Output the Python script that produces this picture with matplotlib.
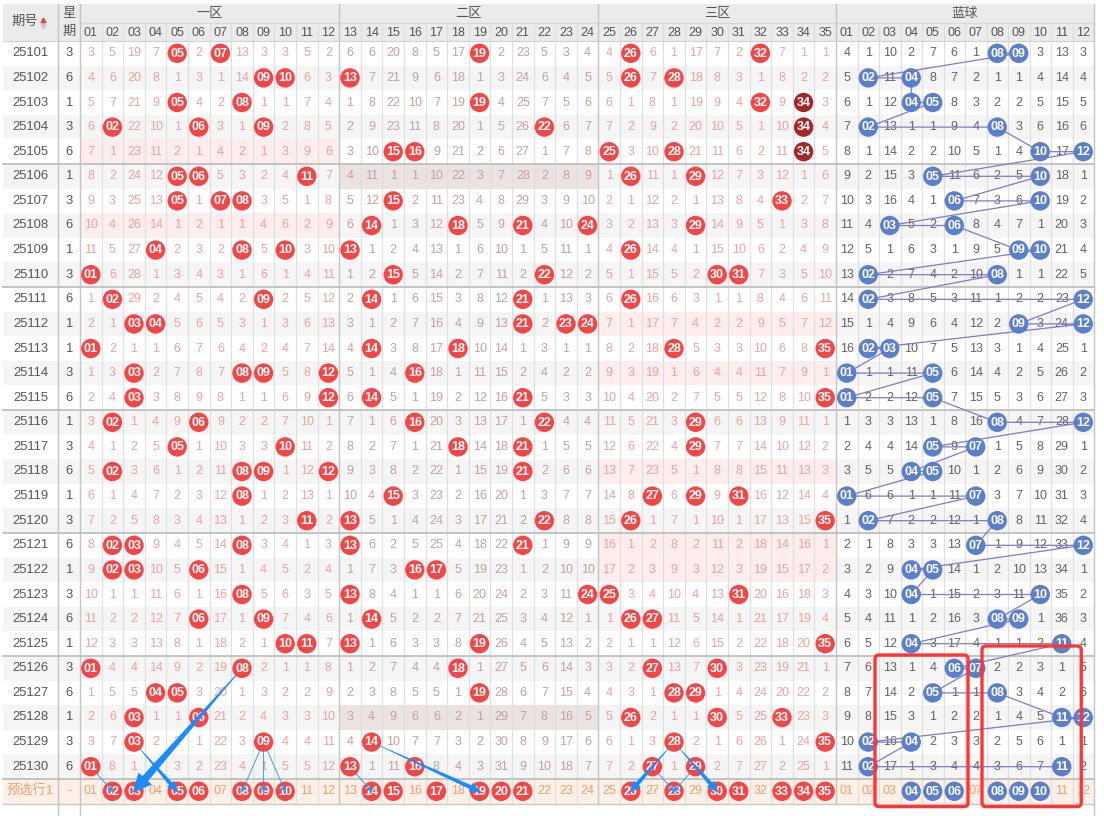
import matplotlib
matplotlib.use("Agg")
import matplotlib.pyplot as plt
from matplotlib.patches import Rectangle, Circle, Polygon, FancyBboxPatch
import numpy as np

plt.rcParams['font.family'] = ['Liberation Sans', 'Noto Sans CJK SC', 'DejaVu Sans']

# ---------------- data (0 = number drawn in that period) ----------------
periods = list(range(25101, 25131))
weekdays = [3, 6, 1, 3, 6, 1, 3, 6, 1, 3, 6, 1, 1, 3, 6, 1, 3, 6, 1, 3,
            6, 1, 3, 6, 1, 3, 6, 1, 3, 6]

zone1_omit = [
    [3, 5, 19, 7, 0, 2, 0, 13, 3, 3, 5, 2],
    [4, 6, 20, 8, 1, 3, 1, 14, 0, 0, 6, 3],
    [5, 7, 21, 9, 0, 4, 2, 0, 1, 1, 7, 4],
    [6, 0, 22, 10, 1, 0, 3, 1, 0, 2, 8, 5],
    [7, 1, 23, 11, 2, 1, 4, 2, 1, 3, 9, 6],
    [8, 2, 24, 12, 0, 0, 5, 3, 2, 4, 0, 7],
    [9, 3, 25, 13, 0, 1, 0, 0, 3, 5, 1, 8],
    [10, 4, 26, 14, 1, 2, 1, 1, 4, 6, 2, 9],
    [11, 5, 27, 0, 2, 3, 2, 0, 5, 0, 3, 10],
    [0, 6, 28, 1, 3, 4, 3, 1, 6, 1, 4, 11],
    [1, 0, 29, 2, 4, 5, 4, 2, 0, 2, 5, 12],
    [2, 1, 0, 0, 5, 6, 5, 3, 1, 3, 6, 13],
    [0, 2, 1, 1, 6, 7, 6, 4, 2, 4, 7, 14],
    [1, 3, 0, 2, 7, 8, 7, 0, 0, 5, 8, 0],
    [2, 4, 0, 3, 8, 9, 8, 1, 1, 6, 9, 0],
    [3, 0, 1, 4, 9, 0, 9, 2, 2, 7, 10, 1],
    [4, 1, 2, 5, 0, 1, 10, 3, 3, 0, 11, 2],
    [5, 0, 3, 6, 1, 2, 11, 0, 0, 1, 12, 0],
    [6, 1, 4, 7, 2, 3, 12, 0, 1, 2, 13, 1],
    [7, 2, 5, 8, 3, 4, 13, 1, 2, 3, 0, 2],
    [8, 0, 0, 9, 4, 5, 14, 0, 3, 4, 1, 3],
    [9, 0, 0, 10, 5, 0, 15, 1, 4, 5, 2, 4],
    [10, 1, 1, 11, 6, 1, 16, 0, 5, 6, 3, 5],
    [11, 2, 2, 12, 7, 0, 17, 1, 0, 7, 4, 6],
    [12, 3, 3, 13, 8, 1, 18, 2, 1, 0, 0, 7],
    [0, 4, 4, 14, 9, 2, 19, 0, 2, 1, 1, 8],
    [1, 5, 5, 0, 0, 3, 20, 1, 3, 2, 2, 9],
    [2, 6, 0, 1, 1, 0, 21, 2, 4, 3, 3, 10],
    [3, 7, 0, 2, 2, 1, 22, 3, 0, 4, 4, 11],
    [0, 8, 1, 3, 3, 2, 23, 4, 1, 5, 5, 12],
]

zone2_omit = [
    [6, 6, 20, 8, 5, 17, 0, 2, 23, 5, 3, 4],
    [0, 7, 21, 9, 6, 18, 1, 3, 24, 6, 4, 5],
    [1, 8, 22, 10, 7, 19, 0, 4, 25, 7, 5, 6],
    [2, 9, 23, 11, 8, 20, 1, 5, 26, 0, 6, 7],
    [3, 10, 0, 0, 9, 21, 2, 6, 27, 1, 7, 8],
    [4, 11, 1, 1, 10, 22, 3, 7, 28, 2, 8, 9],
    [5, 12, 0, 2, 11, 23, 4, 8, 29, 3, 9, 10],
    [6, 0, 1, 3, 12, 0, 5, 9, 0, 4, 10, 0],
    [0, 1, 2, 4, 13, 1, 6, 10, 1, 5, 11, 1],
    [1, 2, 0, 5, 14, 2, 7, 11, 2, 0, 12, 2],
    [2, 0, 1, 6, 15, 3, 8, 12, 0, 1, 13, 3],
    [3, 1, 2, 7, 16, 4, 9, 13, 0, 2, 0, 0],
    [4, 0, 3, 8, 17, 0, 10, 14, 1, 3, 1, 1],
    [5, 1, 4, 0, 18, 1, 11, 15, 2, 4, 2, 2],
    [6, 0, 5, 1, 19, 2, 12, 16, 0, 5, 3, 3],
    [7, 1, 6, 0, 20, 3, 13, 17, 1, 0, 4, 4],
    [8, 2, 7, 1, 21, 0, 14, 18, 0, 1, 5, 5],
    [9, 3, 8, 2, 22, 1, 15, 19, 0, 2, 6, 6],
    [10, 4, 0, 3, 23, 2, 16, 20, 1, 3, 7, 7],
    [0, 5, 1, 4, 24, 3, 17, 21, 2, 0, 8, 8],
    [0, 6, 2, 5, 25, 4, 18, 22, 0, 1, 9, 9],
    [1, 7, 3, 0, 0, 5, 19, 23, 1, 2, 10, 10],
    [0, 8, 4, 1, 1, 6, 20, 24, 2, 3, 11, 0],
    [1, 0, 5, 2, 2, 7, 21, 25, 3, 4, 12, 1],
    [0, 1, 6, 3, 3, 8, 0, 26, 4, 5, 13, 2],
    [1, 2, 7, 4, 4, 0, 1, 27, 5, 6, 14, 3],
    [2, 3, 8, 5, 5, 1, 0, 28, 6, 7, 15, 4],
    [3, 4, 9, 6, 6, 2, 1, 29, 7, 8, 16, 5],
    [4, 0, 10, 7, 7, 3, 2, 30, 8, 9, 17, 6],
    [0, 1, 11, 0, 8, 4, 3, 31, 9, 10, 18, 7],
]

zone3_omit = [
    [4, 0, 6, 1, 17, 7, 2, 0, 7, 1, 1],
    [5, 0, 7, 0, 18, 8, 3, 1, 8, 2, 2],
    [6, 1, 8, 1, 19, 9, 4, 0, 9, 0, 3],
    [7, 2, 9, 2, 20, 10, 5, 1, 10, 0, 4],
    [0, 3, 10, 0, 21, 11, 6, 2, 11, 0, 5],
    [1, 0, 11, 1, 0, 12, 7, 3, 12, 1, 6],
    [2, 1, 12, 2, 1, 13, 8, 4, 0, 2, 7],
    [3, 2, 13, 3, 0, 14, 9, 5, 1, 3, 8],
    [4, 0, 14, 4, 1, 15, 10, 6, 2, 4, 9],
    [5, 1, 15, 5, 2, 0, 0, 7, 3, 5, 10],
    [6, 0, 16, 6, 3, 1, 1, 8, 4, 6, 11],
    [7, 1, 17, 7, 4, 2, 2, 9, 5, 7, 12],
    [8, 2, 18, 0, 5, 3, 3, 10, 6, 8, 0],
    [9, 3, 19, 1, 6, 4, 4, 11, 7, 9, 1],
    [10, 4, 20, 2, 7, 5, 5, 12, 8, 10, 0],
    [11, 5, 21, 3, 0, 6, 6, 13, 9, 11, 1],
    [12, 6, 22, 4, 0, 7, 7, 14, 10, 12, 2],
    [13, 7, 23, 5, 1, 8, 8, 15, 11, 13, 3],
    [14, 8, 0, 6, 0, 9, 0, 16, 12, 14, 4],
    [15, 0, 1, 7, 1, 10, 1, 17, 13, 15, 0],
    [16, 1, 2, 8, 2, 11, 2, 18, 14, 16, 1],
    [17, 2, 3, 9, 3, 12, 3, 19, 15, 17, 2],
    [0, 3, 4, 10, 4, 13, 0, 20, 16, 18, 3],
    [1, 0, 0, 11, 5, 14, 1, 21, 17, 19, 4],
    [2, 1, 1, 12, 6, 15, 2, 22, 18, 20, 0],
    [3, 2, 0, 13, 7, 0, 3, 23, 19, 21, 1],
    [4, 3, 1, 0, 0, 1, 4, 24, 20, 22, 2],
    [5, 0, 2, 1, 1, 0, 5, 25, 0, 23, 3],
    [6, 1, 3, 0, 2, 1, 6, 26, 1, 24, 0],
    [7, 2, 0, 1, 0, 2, 7, 27, 2, 25, 1],
]

blue_omit = [
    [4, 1, 10, 2, 7, 6, 1, 0, 0, 3, 13, 3],
    [5, 0, 11, 0, 8, 7, 2, 1, 1, 4, 14, 4],
    [6, 1, 12, 0, 0, 8, 3, 2, 2, 5, 15, 5],
    [7, 0, 13, 1, 1, 9, 4, 0, 3, 6, 16, 6],
    [8, 1, 14, 2, 2, 10, 5, 1, 4, 0, 17, 0],
    [9, 2, 15, 3, 0, 11, 6, 2, 5, 0, 18, 1],
    [10, 3, 16, 4, 1, 0, 7, 3, 6, 0, 19, 2],
    [11, 4, 0, 5, 2, 0, 8, 4, 7, 1, 20, 3],
    [12, 5, 1, 6, 3, 1, 9, 5, 0, 0, 21, 4],
    [13, 0, 2, 7, 4, 2, 10, 0, 1, 1, 22, 5],
    [14, 0, 3, 8, 5, 3, 11, 1, 2, 2, 23, 0],
    [15, 1, 4, 9, 6, 4, 12, 2, 0, 3, 24, 0],
    [16, 0, 0, 10, 7, 5, 13, 3, 1, 4, 25, 1],
    [0, 1, 1, 11, 0, 6, 14, 4, 2, 5, 26, 2],
    [0, 2, 2, 12, 0, 7, 15, 5, 3, 6, 27, 3],
    [1, 3, 3, 13, 1, 8, 16, 0, 4, 7, 28, 0],
    [2, 4, 4, 14, 0, 9, 0, 1, 5, 8, 29, 1],
    [3, 5, 5, 0, 0, 10, 1, 2, 6, 9, 30, 2],
    [0, 6, 6, 1, 1, 11, 0, 3, 7, 10, 31, 3],
    [1, 0, 7, 2, 2, 12, 1, 0, 8, 11, 32, 4],
    [2, 1, 8, 3, 3, 13, 0, 1, 9, 12, 33, 0],
    [3, 2, 9, 0, 0, 14, 1, 2, 10, 13, 34, 1],
    [4, 3, 10, 0, 1, 15, 2, 3, 11, 0, 35, 2],
    [5, 4, 11, 1, 2, 16, 3, 0, 0, 1, 36, 3],
    [6, 5, 12, 0, 3, 17, 4, 1, 1, 2, 0, 4],
    [7, 6, 13, 1, 4, 0, 0, 2, 2, 3, 1, 5],
    [8, 7, 14, 2, 0, 1, 1, 0, 3, 4, 2, 6],
    [9, 8, 15, 3, 1, 2, 2, 1, 4, 5, 0, 0],
    [10, 0, 16, 0, 2, 3, 3, 2, 5, 6, 1, 1],
    [11, 0, 17, 1, 3, 4, 4, 3, 6, 7, 0, 2],
]

dark_hits = [(25103, 34), (25104, 34), (25105, 34)]
pre_red = [2, 3, 5, 6, 8, 9, 10, 14, 15, 17, 19, 20, 21, 26, 28, 30, 31, 33, 34, 35]
pre_blue = [4, 5, 6, 8, 9, 10]
red_labels = [f"{i:02d}" for i in range(1, 36)]
blue_labels = [f"{i:02d}" for i in range(1, 13)]
zone_names = ["一区", "二区", "三区", "蓝球"]
pre_label = "预选行1"
# arrows: (period, from red number, to preselect red number, style)
red_arrows = [
    (25126, 8, 3, "big"), (25129, 3, 5, "mid"), (25130, 1, 2, "thin"),
    (25129, 9, 8, "thin"), (25129, 9, 9, "thin"), (25129, 9, 10, "thin"),
    (25129, 14, 19, "mid"), (25130, 13, 14, "thin"),
    (25129, 28, 26, "mid"), (25129, 28, 30, "mid"),
    (25130, 27, 28, "thin"), (25130, 29, 28, "thin"),
]

# ---------------- layout ----------------
W, H = 1104, 816
X0, XQ, XW = 3, 58, 80
CW, BCW = 21.6, 21.5
XR = XW + 35 * CW
XE = XR + 12 * BCW
YT, YH1, YH2 = 4, 23, 41
RH = 24.6
NR = len(periods)

def rx(n):
    return XW + (n - 0.5) * CW

def bx(n):
    return XR + (n - 0.5) * BCW

def ry(i):
    return YH2 + (i + 0.5) * RH

RED = "#f44646"
DARK = "#a52626"
BLUE = "#5b7fcb"
Z13_TXT = "#f4a0a0"
Z2_TXT = "#c7a0a0"
B_TXT = "#626262"
H_TXT = "#555555"
PRE_TXT = "#f2a072"
ARROW = "#1a8cff"
FS = 9.0
R = 9.7

fig = plt.figure(figsize=(W / 100, H / 100), dpi=100)
ax = fig.add_axes([0, 0, 1, 1])
ax.set_xlim(0, W)
ax.set_ylim(H, 0)
ax.axis('off')

# backgrounds
ax.add_patch(Rectangle((X0, YT), XE - X0, YH2 - YT, color="#ebebeb", zorder=0, lw=0))
for i in range(NR):
    if i % 2 == 1:
        ax.add_patch(Rectangle((X0, YH2 + i * RH), XE - X0, RH, color="#f5f5f5", zorder=0, lw=0))
ax.add_patch(Rectangle((X0, YH2 + NR * RH), XE - X0, RH, color="#fdf0e7", zorder=0, lw=0))

zones = [(zone1_omit, 1, Z13_TXT, "#fdeded"), (zone2_omit, 13, Z2_TXT, "#ebe2e2"),
         (zone3_omit, 25, Z13_TXT, "#fdeded")]
for data, start, _, shade in zones:
    n = len(data[0])
    for i, row in enumerate(data):
        if all(v != 0 for v in row):
            ax.add_patch(Rectangle((rx(start) - CW / 2, YH2 + i * RH), n * CW, RH,
                                   color=shade, zorder=0.5, lw=0))

# grid lines
ybot = YH2 + (NR + 1) * RH
for k in range(1, 35):
    x = XW + k * CW
    if k in (12, 24):
        continue
    ax.plot([x, x], [YH1, ybot], color="#dedede", lw=0.8, zorder=1)
for k in range(1, 12):
    x = XR + k * BCW
    ax.plot([x, x], [YH1, ybot], color="#dedede", lw=0.8, zorder=1)
for x in (XW + 12 * CW, XW + 24 * CW, XR):
    ax.plot([x, x], [YT, ybot], color="#c4c4c4", lw=1.0, zorder=1.2)
for x in (XQ, XW, XE):
    ax.plot([x, x], [YT, H], color="#c4c4c4", lw=1.0, zorder=1.2)
ax.plot([XW, XE], [YH1, YH1], color="#d8d8d8", lw=0.8, zorder=1)
ax.plot([X0, XE], [YH2, YH2], color="#d0d0d0", lw=0.8, zorder=1)
for k in range(5, NR + 1, 5):
    y = YH2 + k * RH
    ax.plot([X0, XE], [y, y], color="#bfbfbf", lw=1.3, zorder=1.2)
ax.plot([X0, XE], [ybot, ybot], color="#c8c8c8", lw=1.0, zorder=1.2)

# header
ax.text(25, 22, "期号", ha="center", va="center", fontsize=9.5, color=H_TXT)
ax.plot([42.5], [19.5], marker="^", ms=3.5, color="#f04040", lw=0)
ax.plot([42.5], [25.5], marker="v", ms=3.5, color="#c8c8c8", lw=0)
ax.text(69, 14, "星", ha="center", va="center", fontsize=9.5, color=H_TXT)
ax.text(69, 32, "期", ha="center", va="center", fontsize=9.5, color=H_TXT)
zone_centers = [(XW + XW + 12 * CW) / 2, XW + 18 * CW, (XW + 24 * CW + XR) / 2, (XR + XE) / 2]
for name, xc in zip(zone_names, zone_centers):
    ax.text(xc, 13.5, name, ha="center", va="center", fontsize=9.5, color=H_TXT)
for n, lab in enumerate(red_labels, 1):
    ax.text(rx(n), 32.5, lab, ha="center", va="center", fontsize=FS, color=H_TXT)
for n, lab in enumerate(blue_labels, 1):
    ax.text(bx(n), 32.5, lab, ha="center", va="center", fontsize=FS, color=H_TXT)

def ball(x, y, color, label):
    ax.add_patch(Circle((x, y), R, color=color, zorder=5, lw=0))
    ax.text(x, y + 0.3, label, ha="center", va="center", fontsize=FS, color="white",
            fontweight="bold", zorder=6)

dark_set = set(dark_hits)
for i, (p, wd) in enumerate(zip(periods, weekdays)):
    y = ry(i)
    ax.text(30.5, y, str(p), ha="center", va="center", fontsize=FS + 0.4, color=H_TXT)
    ax.text(69, y, str(wd), ha="center", va="center", fontsize=FS + 0.4, color=H_TXT)
    for data, start, tc, _ in zones:
        for j, v in enumerate(data[i]):
            n = start + j
            if v == 0:
                ball(rx(n), y, DARK if (p, n) in dark_set else RED, f"{n:02d}")
            else:
                ax.text(rx(n), y, str(v), ha="center", va="center", fontsize=FS, color=tc, zorder=3)
    for j, v in enumerate(blue_omit[i]):
        n = j + 1
        if v == 0:
            ball(bx(n), y, BLUE, f"{n:02d}")
        else:
            ax.text(bx(n), y, str(v), ha="center", va="center", fontsize=FS, color=B_TXT, zorder=3)

# blue trend line
tx, ty = [], []
for i, row in enumerate(blue_omit):
    for j, v in enumerate(row):
        if v == 0:
            tx.append(bx(j + 1))
            ty.append(ry(i))
ax.plot(tx, ty, color="#7d7bcc", lw=0.9, zorder=4)

# preselect row
yp = ry(NR)
ax.text(30.5, yp, pre_label, ha="center", va="center", fontsize=9.5, color=PRE_TXT)
ax.text(69, yp, "-", ha="center", va="center", fontsize=FS, color=PRE_TXT)
for n in range(1, 36):
    if n in pre_red:
        ball(rx(n), yp, RED, f"{n:02d}")
    else:
        ax.text(rx(n), yp, f"{n:02d}", ha="center", va="center", fontsize=FS, color=PRE_TXT, zorder=3)
for n in range(1, 13):
    if n in pre_blue:
        ball(bx(n), yp, BLUE, f"{n:02d}")
    else:
        ax.text(bx(n), yp, f"{n:02d}", ha="center", va="center", fontsize=FS, color=PRE_TXT, zorder=3)

# arrows
def wedge(p0, p1, w0, w1, hw, hl, color):
    p0 = np.array(p0, float); p1 = np.array(p1, float)
    d = p1 - p0
    L = np.hypot(*d)
    u = d / L
    nrm = np.array([-u[1], u[0]])
    base = p1 - u * hl
    pts = [p0 + nrm * w0 / 2, base + nrm * w1 / 2, base + nrm * hw / 2, p1,
           base - nrm * hw / 2, base - nrm * w1 / 2, p0 - nrm * w0 / 2]
    ax.add_patch(Polygon(pts, closed=True, color=color, lw=0, zorder=7))

styles = {"big": (1.0, 7.5, 18, 19), "mid": (0.6, 4.2, 9.5, 12), "thin": (0.9, 0.9, 5.5, 7)}
pidx = {p: i for i, p in enumerate(periods)}
for p, a, b, st in red_arrows:
    x0, y0 = rx(a), ry(pidx[p])
    x1, y1 = rx(b), yp
    d = np.array([x1 - x0, y1 - y0])
    u = d / np.hypot(*d)
    start = (x0 + u[0] * (R - 1), y0 + u[1] * (R - 1))
    w0, w1, hw, hl = styles[st]
    col = ARROW if st != "thin" else "#2a96ff"
    wedge(start, (x1 + u[0] * 2, y1 + u[1] * 2), w0, w1, hw, hl, col)

# highlight boxes
boxes = [
    (XR + 2 * BCW - 4, XR + 6 * BCW + 3, YH2 + 25 * RH - 1),
    (XR + 7 * BCW - 4.5, XR + 11.5 * BCW - 2, YH2 + 25 * RH - 10),
]
for xl, xr_, yt in boxes:
    ax.add_patch(FancyBboxPatch((xl, yt), xr_ - xl, ybot + 3 - yt,
                                boxstyle="round,pad=0,rounding_size=4",
                                fill=False, edgecolor="#ff3434", lw=2.4, zorder=8))

fig.savefig("out.png", dpi=100)
